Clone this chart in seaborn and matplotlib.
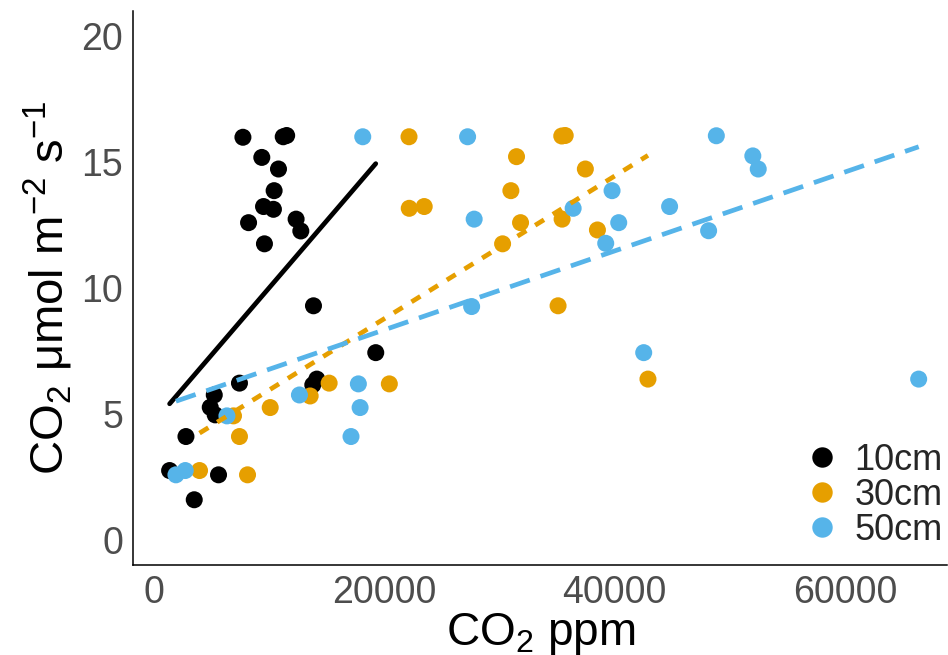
import numpy as np
import pandas as pd
import matplotlib
matplotlib.use("Agg")
import matplotlib.pyplot as plt
import seaborn as sns

# values
depths = ["10cm", "30cm", "50cm"]
colors = ["#000000", "#E69F00", "#56B4E9"]

ppm_10 = [7700, 11200, 11500, 9340, 10790, 10410, 9490, 10350, 8190, 12320, 12730, 9570,
          13830, 19240, 14120, 13770, 7400, 5210, 4860, 5290, 2750, 1330, 5580, 3470]
flux_10 = [15.98, 16.0, 16.05, 15.18, 14.72, 13.86, 13.23, 13.12, 12.59, 12.73, 12.26, 11.75,
           9.29, 7.43, 6.38, 6.15, 6.22, 5.75, 5.26, 4.96, 4.10, 2.75, 2.58, 1.59]

ppm_30 = [22130, 35400, 35700, 31470, 37450, 30980, 22150, 23450, 31820, 35430, 38500,
          30260, 35080, 42890, 15190, 20420, 13540, 10070, 6880, 7400, 3930, 8100]
flux_30 = [16.0, 16.03, 16.05, 15.21, 14.72, 13.86, 13.16, 13.23, 12.59, 12.73, 12.3,
           11.75, 9.29, 6.38, 6.22, 6.19, 5.71, 5.25, 4.92, 4.10, 2.75, 2.58]

ppm_50 = [18110, 27220, 48830, 52000, 52470, 39770, 36390, 44770, 27790, 40350, 39220,
          48160, 27570, 42520, 66410, 17730, 17880, 17090, 12610, 6310, 2690, 1880]
flux_50 = [16.0, 16.0, 16.04, 15.24, 14.72, 13.86, 13.16, 13.23, 12.73, 12.59, 11.77,
           12.27, 9.26, 7.43, 6.38, 6.19, 5.25, 4.10, 5.75, 4.92, 2.75, 2.58]

df = pd.DataFrame({
    "ppm": ppm_10 + ppm_30 + ppm_50,
    "flux": flux_10 + flux_30 + flux_50,
    "depth": [depths[0]] * len(ppm_10) + [depths[1]] * len(ppm_30) + [depths[2]] * len(ppm_50),
})

sns.set_style("white")
plt.rcParams["font.family"] = ["Liberation Sans", "DejaVu Sans"]
plt.rcParams["mathtext.default"] = "regular"

fig = plt.figure(figsize=(9.48, 6.55), dpi=100)
ax = fig.add_axes([0.1403, 0.1374, 0.859, 0.8461])

sns.scatterplot(data=df, x="ppm", y="flux", hue="depth", hue_order=depths,
                palette=colors, s=150, linewidth=0, ax=ax, zorder=2)

# solid / dotted / dashed fits, one per depth
line_styles = ["-", (0, (2.2, 2.2)), (0, (4.4, 2.4))]
for d, c, ls in zip(depths, colors, line_styles):
    sub = df[df.depth == d]
    sns.regplot(data=sub, x="ppm", y="flux", scatter=False, ci=None, ax=ax,
                line_kws={"color": c, "linestyle": ls, "linewidth": 3.4, "zorder": 3})

ax.set_xlim(-1850, 68900)
ax.set_ylim(-1, 21)
ax.set_xticks([0, 20000, 40000, 60000])
ax.set_yticks([0, 5, 10, 15, 20])

ax.set_xlabel("CO$_2$ ppm", fontsize=33, color="black", labelpad=0)
ax.set_ylabel("CO$_2$ \u03bcmol m$^{-2}$ s$^{-1}$", fontsize=34, color="black", labelpad=5)
ax.tick_params(axis="both", labelsize=27, labelcolor="#4D4D4D", color="#333333",
               length=4, width=1.1, direction="out", pad=3)

for side in ["top", "right"]:
    ax.spines[side].set_visible(False)
for side in ["left", "bottom"]:
    ax.spines[side].set_color("black")
    ax.spines[side].set_linewidth(1.1)

leg = ax.legend(loc="lower right", bbox_to_anchor=(1.012, 0.005), frameon=False,
                fontsize=26, title=None, handletextpad=0.3, labelspacing=0.0,
                borderaxespad=0.0, handlelength=1.2, markerscale=1.2)

fig.savefig("out.png", dpi=100)
